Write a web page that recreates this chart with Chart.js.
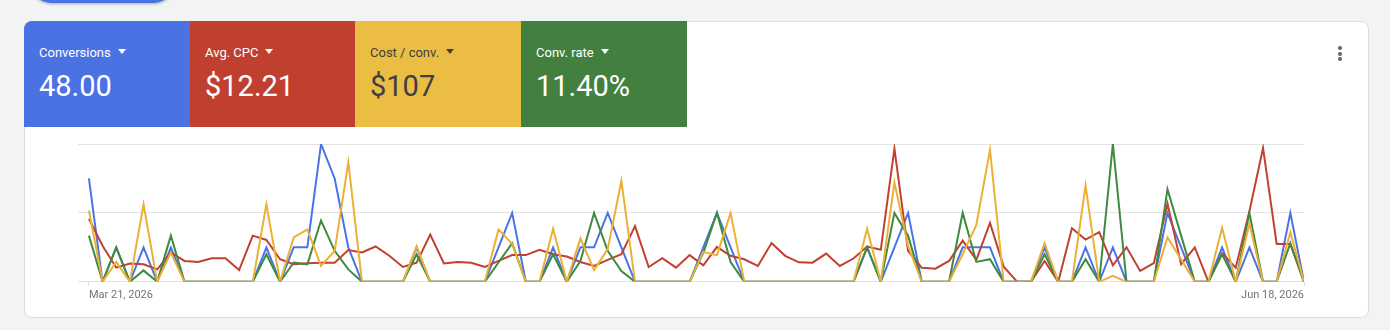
<!DOCTYPE html>
<html>
<head>
<meta charset="utf-8">
<script src="https://cdn.jsdelivr.net/npm/chart.js@4.4.1/dist/chart.umd.min.js"></script>
<style>
  body { margin: 0; width: 1390px; height: 330px; background: #f1f3f4; font-family: Roboto, Arial, sans-serif; position: relative; overflow: hidden; }
  .pill { position: absolute; left: 30px; top: -40px; width: 145px; height: 43px; border-radius: 22px; background: #4b72e3; box-shadow: 0 1px 3px rgba(60,64,67,.4); }
  .card { position: absolute; left: 24px; top: 21px; width: 1343px; height: 295px; background: #fff; border: 1px solid #dadce0; border-radius: 8px; }
  .tile { position: absolute; top: 21px; height: 106px; color: #fff; }
  .tile .lab { position: absolute; left: 15px; top: 25px; font-size: 13px; line-height: 13px; white-space: nowrap; }
  .tile .lab i { display: inline-block; width: 0; height: 0; margin-left: 7px; vertical-align: 3px;
    border-left: 4.5px solid transparent; border-right: 4.5px solid transparent; border-top: 5px solid currentColor; }
  .tile .val { position: absolute; left: 15px; top: 51px; font-size: 29px; line-height: 29px; white-space: nowrap; }
  .dot { position: absolute; left: 1338px; width: 4px; height: 4px; border-radius: 2px; background: #5f6368; }
  #wrap { position: absolute; left: 0; top: 130px; width: 1390px; height: 190px; }
</style>
</head>
<body>
<div class="pill"></div>
<div class="card"></div>
<div class="tile" style="left:24px;width:166px;background:#4b72e3;border-top-left-radius:8px;">
  <div class="lab">Conversions<i></i></div><div class="val">48.00</div></div>
<div class="tile" style="left:190px;width:165px;background:#c0402f;">
  <div class="lab">Avg. CPC<i></i></div><div class="val">$12.21</div></div>
<div class="tile" style="left:355px;width:166px;background:#ecbd43;color:#3c4043;">
  <div class="lab">Cost / conv.<i></i></div><div class="val">$107</div></div>
<div class="tile" style="left:521px;width:166px;background:#43803f;">
  <div class="lab">Conv. rate<i></i></div><div class="val">11.40%</div></div>
<div class="dot" style="top:46px"></div>
<div class="dot" style="top:52px"></div>
<div class="dot" style="top:57px"></div>
<div id="wrap"><canvas id="overviewChart" width="1390" height="190"></canvas></div>

<script>
// 90 days, Mar 21 - Jun 18, 2026 (index = day offset)
const tickDays = [0, 89];
const tickLabels = ["Mar 21, 2026", "Jun 18, 2026"];

const conversions = [
  3, 0, 1, 0, 1, 0, 1, 0, 0, 0,
  0, 0, 0, 1, 0, 1, 1, 4, 3, 1,
  0, 0, 0, 0, 1, 0, 0, 0, 0, 0,
  1, 2, 0, 0, 1, 0, 1, 1, 2, 1,
  0, 0, 0, 0, 0, 1, 2, 1, 0, 0,
  0, 0, 0, 0, 0, 0, 0, 1, 0, 1,
  2, 0, 0, 0, 1, 1, 1, 0, 0, 0,
  1, 0, 0, 1, 0, 1, 0, 0, 0, 2,
  1, 0, 0, 1, 0, 1, 0, 0, 2, 0
];
const avgCpc = [
  36.6, 20.9, 8.2, 10.6, 10.2, 7.2, 17.0, 12.1, 11.5, 13.7,
  13.7, 6.8, 26.8, 24.3, 13.1, 10.2, 10.8, 11.1, 11.1, 18.4,
  17.0, 20.5, 15.1, 8.6, 11.1, 27.4, 10.6, 11.5, 11.1, 8.6,
  12.1, 15.5, 15.5, 18.6, 16.0, 14.7, 11.5, 9.2, 12.7, 16.0,
  32.3, 8.6, 13.7, 8.2, 15.5, 9.6, 20.3, 15.1, 13.1, 9.2,
  22.5, 15.1, 11.3, 11.1, 16.4, 9.2, 13.5, 20.5, 18.6, 77.3,
  18.0, 8.2, 7.6, 12.1, 23.9, 12.7, 34.2, 8.8, 0, 0,
  12.1, 0, 31.1, 24.5, 28.8, 9.6, 20.0, 6.3, 10.8, 45.4,
  10.2, 20.0, 0, 16.6, 8.2, 40.9, 77.7, 21.9, 21.9, 0
];
const costPerConv = [
  103.5, 0, 29, 0, 112.5, 0, 42.5, 0, 0, 0,
  0, 0, 0, 112.5, 0, 64.5, 76, 23, 45, 173.5,
  0, 0, 0, 0, 51.5, 0, 0, 0, 0, 0,
  76, 55, 0, 0, 77, 0, 63, 17, 47.5, 146.5,
  0, 0, 0, 0, 0, 43.5, 38.5, 100, 0, 0,
  0, 0, 0, 0, 0, 0, 0, 77, 0, 144,
  52.5, 0, 0, 0, 40, 82.5, 191.5, 0, 0, 0,
  56, 0, 0, 139.5, 0, 8.5, 0, 0, 0, 64.5,
  32.5, 0, 0, 78.5, 0, 84.5, 0, 0, 72, 0
];
const convRate = [
  33.5, 0, 25, 0, 8.3, 0, 33.5, 0, 0, 0,
  0, 0, 0, 20, 0, 14, 12.7, 44.5, 22.5, 9,
  0, 0, 0, 0, 20, 0, 0, 0, 0, 0,
  14, 28, 0, 0, 20, 0, 15, 50, 22.5, 7.8,
  0, 0, 0, 0, 0, 21, 50, 14.4, 0, 0,
  0, 0, 0, 0, 0, 0, 0, 25, 0, 50,
  33.5, 0, 0, 0, 50, 14.4, 16.4, 0, 0, 0,
  20, 0, 0, 16.4, 0, 100, 0, 0, 0, 67.2,
  33.5, 0, 0, 20, 0, 50, 0, 0, 28, 0
];

const toPoints = arr => arr.map((v, i) => ({ x: i, y: v }));

function line(label, values, color, axis) {
  return {
    label: label,
    data: toPoints(values),
    borderColor: color,
    backgroundColor: color,
    borderWidth: 2,
    pointRadius: 0,
    tension: 0,
    yAxisID: axis,
  };
}

const ctx = document.getElementById("overviewChart").getContext("2d");

new Chart(ctx, {
  type: "line",
  data: {
    // first dataset is painted on top
    datasets: [
      line("Cost / conv.", costPerConv, "#ebb035", "yCost"),
      line("Conv. rate", convRate, "#3f8a3f", "yRate"),
      line("Avg. CPC", avgCpc, "#c0412f", "yCpc"),
      line("Conversions", conversions, "#4a74e6", "y"),
    ],
  },
  options: {
    responsive: false,
    animation: false,
    layout: { padding: { left: 78, right: 86, top: 14, bottom: 15 } },
    plugins: { legend: { display: false }, tooltip: { enabled: false } },
    scales: {
      x: {
        type: "linear",
        min: -0.8,
        max: 89,
        afterBuildTicks: s => { s.ticks = tickDays.map(v => ({ value: v })); },
        ticks: {
          align: "inner",
          maxRotation: 0,
          padding: 3,
          color: "#70757a",
          font: { family: "Roboto", size: 11 },
          callback: (v, i) => tickLabels[i],
        },
        grid: { drawOnChartArea: false, drawTicks: true, tickLength: 4, tickColor: "#dadce0" },
        border: { display: false },
      },
      y: {
        min: 0,
        max: 4,
        ticks: { display: false, stepSize: 2 },
        grid: { color: "#e3e3e3", drawTicks: false },
        border: { display: false },
        afterFit: s => { s.width = 0; },
      },
      yCpc: { display: false, min: 0, max: 80 },
      yCost: { display: false, min: 0, max: 200 },
      yRate: { display: false, min: 0, max: 100 },
    },
  },
});
</script>
</body>
</html>
